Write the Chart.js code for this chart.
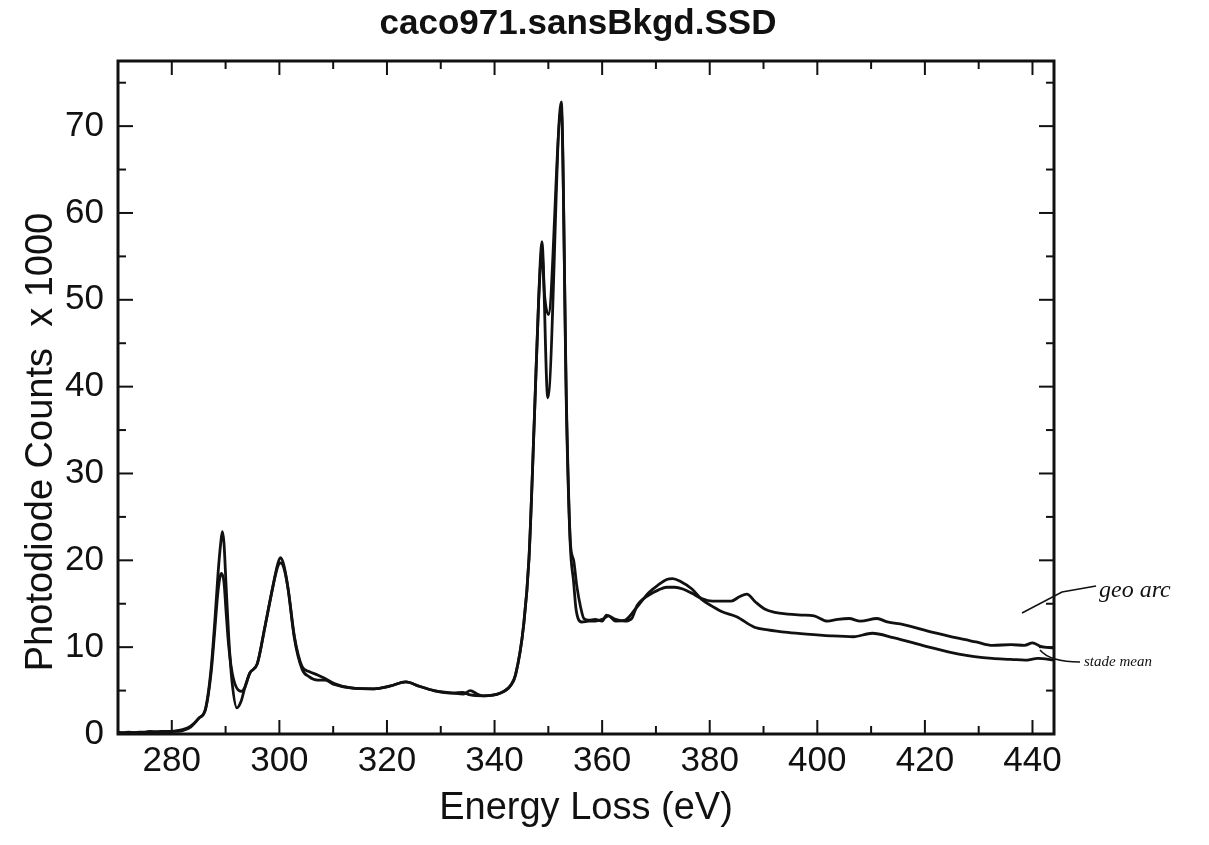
<!DOCTYPE html>
<html>
	<head>
		<meta charset="UTF-8" />
		<title>caco971.sansBkgd.SSD</title>
		<style type="text/css">
			body { margin: 0; background: #fff; }
			.chartBox { width: 1209px; height: 845px; }
		</style>
	</head>
	<body>
		<div class="chartBox">
			<canvas id="myChart"></canvas>
		</div>
		<script src="https://cdn.jsdelivr.net/npm/chart.js"></script>
		<script>
			// data (eV, counts x 1000)
			const energyGeo = [270, 272, 274, 276, 278, 280, 282, 283.5, 285, 286.3, 287.3, 288, 288.6, 289.2, 289.7, 290.1, 290.6, 291.4, 292.9, 293.6, 294.5, 295.9, 297.3, 298.8, 299.7, 300.2, 300.8, 301.6, 302.8, 304.2, 305.5, 307.1, 308.5, 310.2, 313.3, 317.6, 320.5, 323.5, 326, 328.7, 332.4, 334.2, 335.5, 336.8, 337.9, 341, 343, 343.9, 345.4, 346.4, 347.4, 348.2, 348.8, 349.3, 350.0, 352.4, 353.4, 354.1, 354.7, 355.3, 356.0, 356.6, 357.5, 358.7, 360, 360.8, 362.5, 364.2, 365.5, 366.5, 368.7, 370.5, 372, 373.5, 375, 376.7, 378.5, 380.5, 382.2, 384, 385.5, 386.9, 388.5, 390.2, 392.1, 394.5, 397, 399.4, 401.9, 403.8, 405.9, 408, 411.1, 413, 416, 421.5, 426.4, 429.5, 432.6, 436, 438.5, 440, 441.5, 444];
			const countsGeo = [0.2, 0.1, 0.2, 0.2, 0.3, 0.3, 0.4, 0.8, 1.8, 2.9, 7, 12, 16.5, 18.5, 17.5, 14, 10, 6.5, 4.9, 5.4, 7.0, 8.1, 12.3, 17, 19.3, 19.7, 19.2, 16.8, 11.2, 7.8, 7.2, 6.8, 6.4, 5.8, 5.3, 5.2, 5.5, 6.0, 5.5, 5.0, 4.7, 4.6, 5.0, 4.6, 4.4, 4.7, 5.6, 6.8, 12.5, 20.2, 36.3, 50, 55.5, 50.5, 48.3, 71.8, 37, 22, 20.0, 17, 14.6, 13.3, 13.1, 13.2, 13.0, 13.7, 13.2, 13.0, 13.3, 14.8, 16.0, 16.6, 16.9, 16.9, 16.7, 16.2, 15.6, 15.3, 15.3, 15.3, 15.8, 16.1, 15.2, 14.4, 14.0, 13.8, 13.7, 13.6, 13.0, 13.2, 13.3, 13.0, 13.3, 12.9, 12.6, 11.7, 11.0, 10.6, 10.2, 10.3, 10.2, 10.5, 10.1, 9.9];

			const energyStade = [270, 272, 274, 276, 278, 280, 282, 283.5, 285, 286.3, 287.3, 288, 288.6, 289.1, 289.4, 289.7, 290.1, 290.6, 291.2, 292.1, 292.9, 293.6, 294.5, 295.9, 297.3, 298.8, 299.7, 300.2, 300.8, 301.6, 302.8, 304.2, 305.5, 307.1, 308.5, 310.2, 313.3, 317.6, 320.5, 323.5, 326, 328.7, 332.4, 334, 335.5, 337.9, 341, 343, 343.9, 345.4, 346.4, 347.4, 348.2, 348.8, 349.9, 352.4, 353.4, 354.1, 354.7, 355.1, 355.6, 356.2, 357.5, 358.7, 360, 361.2, 362.5, 364.2, 366.2, 368.7, 370.5, 372, 373.1, 374.5, 376.7, 378.5, 380.5, 382.2, 385, 388.3, 390.8, 394.5, 398, 402.5, 406.7, 410.2, 414.1, 420.2, 426.3, 432.5, 436, 438.6, 441, 444];
			const countsStade = [0.1, 0.2, 0.1, 0.3, 0.2, 0.3, 0.5, 0.9, 1.8, 3.0, 7.5, 13, 18.5, 22, 23.3, 22, 17, 11, 6, 3.0, 3.8, 5.4, 7.0, 8.1, 12.3, 17, 19.6, 20.3, 19.5, 16.8, 11.0, 7.5, 6.6, 6.2, 6.2, 5.7, 5.3, 5.2, 5.5, 6.0, 5.5, 5.0, 4.7, 4.8, 4.5, 4.4, 4.7, 5.6, 6.8, 12.5, 20.2, 36.3, 50, 56.7, 38.7, 72.8, 36.1, 21.5, 17.5, 14.6, 13.2, 12.9, 13.0, 13.0, 13.2, 13.6, 13.0, 13.1, 14.4, 16.3, 17.2, 17.8, 17.9, 17.6, 16.7, 15.5, 14.7, 14.1, 13.5, 12.3, 12.0, 11.7, 11.5, 11.3, 11.2, 11.6, 11.1, 10.1, 9.2, 8.7, 8.6, 8.5, 8.7, 8.5];

			const xMin = 270, xMax = 444;
			const yMin = 0, yMax = 77.5;

			const chartTitle = 'caco971.sansBkgd.SSD';
			const yTitle = 'Photodiode Counts  x 1000';
			const xTitle = 'Energy Loss (eV)';

			const ink = '#111';
			const sans = '"Liberation Sans", Arial, sans-serif';

			function toPoints(xs, ys) {
				return xs.map((x, i) => ({x: x, y: ys[i]}));
			}

			//frame, inward ticks, titles and the handwritten notes
			const frameTicks = {
				id: 'frameTicks',
				afterDraw(chart) {
					const {ctx, chartArea: a, scales: {x, y}} = chart;
					ctx.save();
					ctx.strokeStyle = ink;
					ctx.lineWidth = 3;
					ctx.strokeRect(a.left, a.top, a.right - a.left, a.bottom - a.top);
					ctx.lineWidth = 2;
					const seg = (x1, y1, x2, y2) => {
						ctx.beginPath(); ctx.moveTo(x1, y1); ctx.lineTo(x2, y2); ctx.stroke();
					};
					x.ticks.forEach(t => {
						const px = x.getPixelForValue(t.value);
						if (px <= a.left + 3 || px >= a.right - 3) return;
						const len = t.value % 20 === 0 ? 14 : 8;
						seg(px, a.bottom, px, a.bottom - len);
						seg(px, a.top, px, a.top + len);
					});
					y.ticks.forEach(t => {
						const py = y.getPixelForValue(t.value);
						if (py >= a.bottom - 3 || py <= a.top + 3) return;
						const len = t.value % 10 === 0 ? 15 : 8;
						seg(a.left, py, a.left + len, py);
						seg(a.right, py, a.right - len, py);
					});

					ctx.fillStyle = ink;
					ctx.textAlign = 'center';
					ctx.textBaseline = 'middle';

					// chart title
					ctx.font = 'bold 35px ' + sans;
					ctx.fillText(chartTitle, 578, 24);

					// y axis title
					ctx.font = '38px ' + sans;
					ctx.translate(42, 442);
					ctx.rotate(-Math.PI / 2);
					ctx.fillText(yTitle, 0, 0);
					ctx.setTransform(1, 0, 0, 1, 0, 0);

					// handwritten notes on the right
					ctx.lineWidth = 1.5;
					ctx.beginPath();
					ctx.moveTo(a.right - 32, 613);
					ctx.lineTo(a.right + 8, 592);
					ctx.lineTo(a.right + 42, 586);
					ctx.stroke();
					ctx.beginPath();
					ctx.moveTo(a.right - 14, 650);
					ctx.quadraticCurveTo(a.right - 4, 662, a.right + 26, 662);
					ctx.stroke();
					ctx.textAlign = 'left';
					ctx.textBaseline = 'alphabetic';
					ctx.font = 'italic 24px "Liberation Serif", serif';
					ctx.fillText('geo arc', a.right + 45, 597);
					ctx.font = 'italic 15px "Liberation Serif", serif';
					ctx.fillText('stade mean', a.right + 30, 666);
					ctx.restore();
				}
			};

			const data = {
				datasets: [{
					label: 'geo arc',
					data: toPoints(energyGeo, countsGeo),
					borderColor: ink,
					borderWidth: 2.8,
					pointRadius: 0,
					fill: false,
					cubicInterpolationMode: 'monotone'
				}, {
					label: 'stade mean',
					data: toPoints(energyStade, countsStade),
					borderColor: ink,
					borderWidth: 2.8,
					pointRadius: 0,
					fill: false,
					cubicInterpolationMode: 'monotone'
				}]
			};

			const config = {
				type: 'line',
				data,
				options: {
					responsive: true,
					maintainAspectRatio: false,
					animation: false,
					layout: { padding: { top: 61, right: 155, bottom: 0, left: 0 } },
					plugins: {
						legend: { display: false },
						tooltip: { enabled: false },
						title: { display: false }
					},
					scales: {
						x: {
							type: 'linear',
							min: xMin,
							max: xMax,
							afterFit: s => { s.height = 111; },
							grid: { display: false, drawTicks: false },
							border: { display: false },
							ticks: {
								stepSize: 10,
								includeBounds: false,
								autoSkip: false,
								maxRotation: 0,
								padding: 6,
								color: ink,
								font: { family: sans, size: 35 },
								callback: v => (v % 20 === 0 ? String(v) : '')
							},
							title: {
								display: true,
								text: xTitle,
								color: ink,
								font: { family: sans, size: 38 },
								padding: { top: 0, bottom: 14 }
							}
						},
						y: {
							min: yMin,
							max: yMax,
							afterFit: s => { s.width = 118; },
							grid: { display: false, drawTicks: false },
							border: { display: false },
							ticks: {
								stepSize: 5,
								includeBounds: false,
								autoSkip: false,
								padding: 14,
								color: ink,
								font: { family: sans, size: 35 },
								callback: v => (v % 10 === 0 ? String(v) : '')
							}
						}
					}
				},
				plugins: [frameTicks]
			};

			//render init
			const myChart = new Chart(
				document.getElementById('myChart'),
				config
			);
		</script>
	</body>
</html>
